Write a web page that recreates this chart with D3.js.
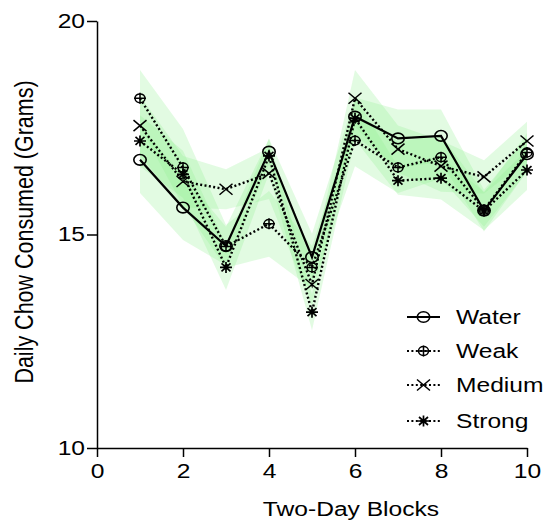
<!DOCTYPE html>
<html>
<head>
<meta charset="utf-8">
<script src="https://cdn.jsdelivr.net/npm/d3@7"></script>
<style>
  html, body { margin: 0; padding: 0; background: #fff; }
  svg { display: block; }
  text { font-family: "Liberation Sans", Arial, Helvetica, sans-serif; fill: #000; }
</style>
</head>
<body>
<svg id="chart" width="549" height="523"></svg>
<script>
// Two-day blocks on the x axis
const blocks = [1, 2, 3, 4, 5, 6, 7, 8, 9, 10];

// Mean daily chow intake (g) per group
const waterMean  = [16.75, 15.63, 14.73, 16.94, 14.47, 17.76, 17.25, 17.31, 15.56, 16.88];
const weakMean   = [18.19, 16.57, 14.72, 15.25, 14.23, 17.20, 16.57, 16.81, 15.58, 16.92];
const mediumMean = [17.55, 16.24, 16.06, 16.43, 13.83, 18.19, 17.00, 16.60, 16.35, 17.19];
const strongMean = [17.19, 16.41, 14.23, 16.84, 13.18, 17.72, 16.26, 16.32, 15.55, 16.51];

// Standard error of each mean
const waterSem  = [0.78, 0.76, 0.45, 0.30, 0.55, 0.45, 0.68, 0.62, 0.49, 0.40];
const weakSem   = [0.66, 0.90, 0.50, 0.77, 0.50, 0.60, 0.60, 0.50, 0.40, 0.45];
const mediumSem = [0.70, 0.60, 0.47, 0.60, 0.50, 0.66, 0.55, 0.60, 0.39, 0.45];
const strongSem = [0.60, 0.55, 0.53, 0.41, 0.42, 0.50, 0.33, 0.50, 0.45, 0.47];

const groupNames = ["Water", "Weak", "Medium", "Strong"];
const xTicks = [0, 2, 4, 6, 8, 10];
const yTicks = [10, 15, 20];

const groups = [
  { name: groupNames[0], mean: waterMean,  sem: waterSem,  marker: "circle",  dash: null },
  { name: groupNames[1], mean: weakMean,   sem: weakSem,   marker: "crossCircle", dash: "2,2.4" },
  { name: groupNames[2], mean: mediumMean, sem: mediumSem, marker: "x",       dash: "2,2.4" },
  { name: groupNames[3], mean: strongMean, sem: strongSem, marker: "star",    dash: "2,2.4" }
];

const svg = d3.select("#chart");
const STRETCH = 1.23; // glyphs are set wide

const x = d3.scaleLinear().domain([0, 10]).range([97, 527]);
const y = d3.scaleLinear().domain([10, 20]).range([448, 21]);

// Shaded SEM bands
const area = d3.area()
  .x((d, i) => x(blocks[i]))
  .y0(d => y(d[0]))
  .y1(d => y(d[1]));

const bandLayer = svg.append("g");
groups.forEach(g => {
  const pts = g.mean.map((m, i) => [m - g.sem[i], m + g.sem[i]]);
  bandLayer.append("path")
    .attr("d", area(pts))
    .attr("fill", "#90ee90")
    .attr("fill-opacity", 0.26)
    .attr("stroke", "none");
});

// Axes
const yAxis = d3.axisLeft(y).tickValues(yTicks).tickSize(10).tickSizeOuter(0).tickFormat(d3.format("d"));
const xAxis = d3.axisBottom(x).tickValues(xTicks).tickSize(9).tickSizeOuter(0).tickFormat(d3.format("d"));

const gy = svg.append("g").attr("transform", `translate(${x(0)},0)`).call(yAxis);
const gx = svg.append("g").attr("transform", `translate(0,${y(10)})`).call(xAxis);

[gx, gy].forEach(g => {
  g.select(".domain").attr("stroke", "#000").attr("stroke-width", 1.5);
  g.selectAll(".tick line").attr("stroke", "#000").attr("stroke-width", 1.5);
  g.selectAll(".tick text").attr("font-size", 20).attr("fill", "#000")
    .style("font-family", '"Liberation Sans", Arial, sans-serif');
});
gy.selectAll(".tick text").attr("x", null)
  .attr("transform", `translate(-12,0) scale(${STRETCH},1)`);
gx.selectAll(".tick text").attr("y", null)
  .attr("transform", `translate(0,16) scale(${STRETCH},1)`);

// Axis titles
svg.append("text")
  .attr("transform", `translate(351,516) scale(${STRETCH},1)`)
  .attr("text-anchor", "middle")
  .attr("font-size", 20)
  .text("Two-Day Blocks");

svg.append("text")
  .attr("transform", `translate(33,232) scale(${STRETCH},1) rotate(-90)`)
  .attr("text-anchor", "middle")
  .attr("font-size", 21.5)
  .text("Daily Chow Consumed (Grams)");

// Marker drawing
function drawMarker(sel, type, cx, cy) {
  const m = sel.append("g").attr("transform", `translate(${cx},${cy})`)
    .attr("fill", "none").attr("stroke", "#000");
  if (type === "circle") {
    m.append("ellipse").attr("rx", 6.2).attr("ry", 5.3).attr("stroke-width", 1.6);
  } else if (type === "crossCircle") {
    m.append("ellipse").attr("rx", 5).attr("ry", 4.4).attr("stroke-width", 1.5);
    m.append("path").attr("d", "M-6,0H6M0,-5.5V5.5").attr("stroke-width", 1.5);
  } else if (type === "x") {
    m.append("path").attr("d", "M-6.5,-5.5L6.5,5.5M-6.5,5.5L6.5,-5.5").attr("stroke-width", 1.5);
  } else if (type === "star") {
    m.append("path").attr("d", "M-6,0H6M0,-5.5V5.5M-4.5,-4L4.5,4M-4.5,4L4.5,-4").attr("stroke-width", 1.7);
  }
}

// Group lines
const line = d3.line().x((d, i) => x(blocks[i])).y(d => y(d));
const lineLayer = svg.append("g");
groups.slice().reverse().forEach(g => {
  const p = lineLayer.append("path")
    .attr("d", line(g.mean))
    .attr("fill", "none")
    .attr("stroke", "#000")
    .attr("stroke-width", g.dash ? 2.4 : 2.2);
  if (g.dash) p.attr("stroke-dasharray", g.dash);
});

// Markers
const markerLayer = svg.append("g");
groups.slice().reverse().forEach(g => {
  g.mean.forEach((m, i) => drawMarker(markerLayer, g.marker, x(blocks[i]), y(m)));
});

// Legend
const legendRows = [317, 351, 385, 421];
const legend = svg.append("g");
groups.forEach((g, i) => {
  const ry = legendRows[i];
  const l = legend.append("line")
    .attr("x1", 407).attr("x2", 440).attr("y1", ry).attr("y2", ry)
    .attr("stroke", "#000").attr("stroke-width", 2);
  if (g.dash) l.attr("stroke-dasharray", g.dash);
  drawMarker(legend, g.marker, 423.5, ry);
  legend.append("text")
    .attr("transform", `translate(456,${ry + 7}) scale(${STRETCH},1)`)
    .attr("font-size", 20)
    .text(g.name);
});
</script>
</body>
</html>
